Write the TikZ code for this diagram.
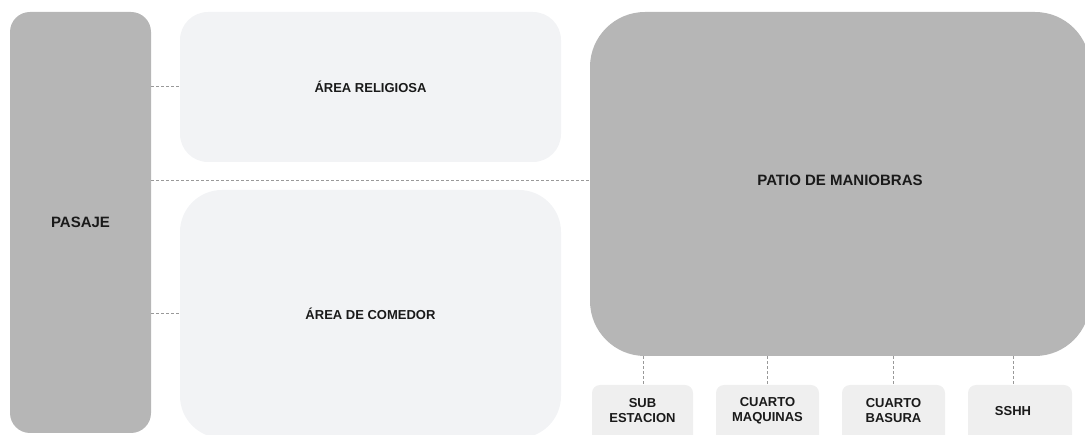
\documentclass[tikz,border=0pt]{standalone}
\usepackage{fontspec}
\setmainfont{Liberation Sans}
\definecolor{darkbox}{HTML}{B6B6B6}
\definecolor{lightbox}{HTML}{F2F3F5}
\definecolor{smallbox}{HTML}{EFEFEF}
\definecolor{dashc}{HTML}{999999}
\definecolor{txt}{HTML}{1A1A1A}
\begin{document}
\begin{tikzpicture}[x=1pt,y=-1pt,
  zone/.style={fill=lightbox,draw=none,text=txt,font=\bfseries\fontsize{13}{15}\selectfont,inner sep=0pt},
  bigzone/.style={fill=darkbox,draw=none,text=txt,font=\bfseries\fontsize{15}{17}\selectfont,inner sep=0pt},
  room/.style={fill=smallbox,draw=none,inner sep=0pt,rounded corners=8pt},
  roomtext/.style={text=txt,font=\bfseries\fontsize{13}{15}\selectfont,align=center},
  link/.style={draw=dashc,line width=1pt,dash pattern=on 3pt off 2pt}]
\useasboundingbox (0,0) rectangle (1085,435);
\begin{scope}
\clip (0,0) rectangle (1085,435);
\node[bigzone,rounded corners=20pt,minimum width=141pt,minimum height=421pt] (pasaje) at (80.5,222.5) {PASAJE};
\node[zone,rounded corners=28pt,minimum width=381pt,minimum height=150pt] (rel) at (370.5,87) {ÁREA RELIGIOSA};
\node[zone,rounded corners=42pt,minimum width=381pt,minimum height=248pt] (com) at (370.5,314) {ÁREA DE COMEDOR};
\node[bigzone,rounded corners=55pt,minimum width=500pt,minimum height=344pt] (patio) at (840,184) {};
\node[text=txt,font=\bfseries\fontsize{15}{17}\selectfont] (patiotext) at ([yshift=4pt]patio.center) {PATIO DE MANIOBRAS};
\node[room,minimum width=101pt,minimum height=60pt] (sub) at (642.5,415) {};
\node[room,minimum width=103pt,minimum height=60pt] (maq) at (767.5,415) {};
\node[room,minimum width=103pt,minimum height=60pt] (bas) at (893.5,415) {};
\node[room,minimum width=104pt,minimum height=60pt] (sshh) at (1020,415) {};
\node[roomtext] (subt) at (642.5,411) {SUB\\ESTACION};
\node[roomtext] (maqt) at (767.5,411) {CUARTO\\MAQUINAS};
\node[roomtext] (bast) at (893.5,411) {CUARTO\\BASURA};
\node[roomtext] (sshht) at (1013,411) {SSHH};
\end{scope}
\draw[link] (pasaje.east |- rel.west) -- (rel.west);
\draw[link] (pasaje.east |- com.west) -- (com.west);
\draw[link] ([yshift=3pt]pasaje.east |- patio.west) -- ([yshift=3pt]patio.west);
\draw[link] (patio.south -| 643,0) -- (sub.north -| 643,0);
\draw[link] (patio.south -| maq.north) -- (maq.north);
\draw[link] (patio.south -| bas.north) -- (bas.north);
\draw[link] (patio.south -| 1013,0) -- (sshh.north -| 1013,0);
\end{tikzpicture}
\end{document}
